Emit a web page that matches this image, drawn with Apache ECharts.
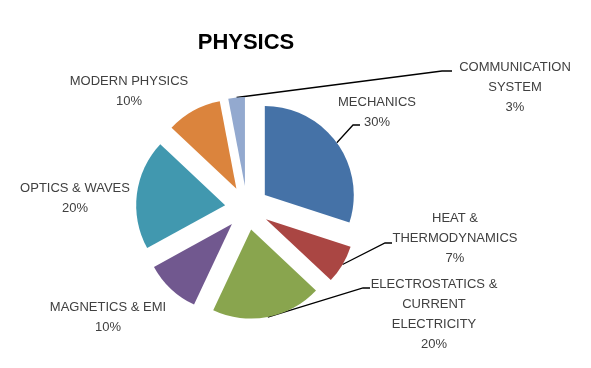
<!DOCTYPE html>
<html><head><meta charset="utf-8">
<script src="https://cdn.jsdelivr.net/npm/echarts@6/dist/echarts.min.js"></script>
<style>html,body{margin:0;padding:0;background:#fff}#c{width:591px;height:368px}</style>
</head><body><div id="c"></div>
<script>
const categories = ["MECHANICS","HEAT &\nTHERMODYNAMICS","ELECTROSTATICS &\nCURRENT\nELECTRICITY","MAGNETICS & EMI","OPTICS & WAVES","MODERN PHYSICS","COMMUNICATION\nSYSTEM"];
const values = [30, 7, 20, 10, 20, 10, 3];
const colors = ["#4572A7","#AA4643","#89A54E","#71588F","#4198AF","#DB843D","#93A9CF"];
const showLine = [true, true, true, false, false, false, true];
// label centre positions and leader-line bend/end points (layout only)
const labelPos = [[377,112],[455,238],[434,314],[108,317],[75,198],[129,91],[515,87]];
const leaderEnd = [[[353,125],[360,125]], [[385,243],[392,243]], [[363,288],[370,288]], null, null, null, [[442,71],[452,71]]];

const CX = 247, CY = 208, R = 89, EXPLODE = 22;
const total = values.reduce((a, b) => a + b, 0);
let cum = 0;
const series = values.map((v, i) => {
  const mid = (90 - (cum + v / 2) / total * 360) * Math.PI / 180;
  cum += v;
  return {
    type: 'pie',
    center: [CX + EXPLODE * Math.cos(mid), CY - EXPLODE * Math.sin(mid)],
    radius: R,
    startAngle: 90,
    clockwise: true,
    avoidLabelOverlap: false,
    emphasis: {disabled: true},
    data: categories.map((n, j) => ({
      name: n, value: values[j],
      itemStyle: {color: j === i ? colors[j] : 'rgba(0,0,0,0)', borderWidth: 0},
      label: {show: j === i},
      labelLine: {show: j === i && showLine[j]}
    })),
    label: {
      position: 'outside',
      formatter: p => p.name + '\n' + p.value + '%',
      fontFamily: 'Liberation Sans', fontSize: 13, color: '#404040',
      lineHeight: 20, align: 'center'
    },
    labelLine: {length: 10, length2: 10, lineStyle: {color: '#000', width: 1.3}},
    labelLayout: p => {
      const k = p.dataIndex;
      const o = {x: labelPos[k][0], y: labelPos[k][1], align: 'center', verticalAlign: 'middle'};
      if (leaderEnd[k] && p.labelLinePoints) {
        o.labelLinePoints = [p.labelLinePoints[0], leaderEnd[k][0], leaderEnd[k][1]];
      }
      return o;
    }
  };
});

const chart = echarts.init(document.getElementById('c'));
chart.setOption({
  animation: false,
  title: {text: 'PHYSICS', left: 241, top: 27, textAlign: 'center',
    textStyle: {fontFamily: 'Liberation Sans', fontWeight: 'bold', fontSize: 22, color: '#000'}},
  series: series
});
</script></body></html>
